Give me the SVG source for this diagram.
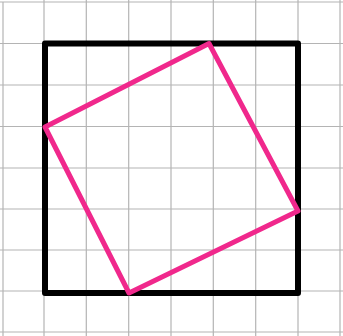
<svg xmlns="http://www.w3.org/2000/svg" width="343" height="336" viewBox="0 0 343 336">
<style>
.grid line{stroke:#b4b4b4;stroke-width:1.2}
.big{fill:none;stroke:#000;stroke-width:6;stroke-linejoin:round}
.tilt{fill:none;stroke:#f0288c;stroke-width:5;stroke-linejoin:round}
</style>
<rect width="343" height="336" fill="#fff"/>
<g id="grid" class="grid">
<line x1="3" y1="2" x2="3" y2="336"/>
<line x1="44" y1="0" x2="44" y2="336"/>
<line x1="86.3" y1="0" x2="86.3" y2="336"/>
<line x1="128.7" y1="0" x2="128.7" y2="336"/>
<line x1="171" y1="0" x2="171" y2="336"/>
<line x1="213.3" y1="0" x2="213.3" y2="336"/>
<line x1="255.7" y1="0" x2="255.7" y2="336"/>
<line x1="298" y1="0" x2="298" y2="336"/>
<line x1="340" y1="0" x2="340" y2="336"/>
<line x1="0" y1="2" x2="343" y2="2"/>
<line x1="0" y1="43.5" x2="343" y2="43.5"/>
<line x1="0" y1="85" x2="343" y2="85"/>
<line x1="0" y1="126.5" x2="343" y2="126.5"/>
<line x1="0" y1="168" x2="343" y2="168"/>
<line x1="0" y1="209" x2="343" y2="209"/>
<line x1="0" y1="250" x2="343" y2="250"/>
<line x1="0" y1="291" x2="343" y2="291"/>
<line x1="0" y1="332" x2="343" y2="332"/>
</g>
<g id="outer-square">
<polygon class="big" points="45,43.5 298,43.5 298,293 45,293"/>
</g>
<g id="inner-square">
<polygon class="tilt" points="209,43.5 298,211 129,293 45,127"/>
</g>
</svg>
